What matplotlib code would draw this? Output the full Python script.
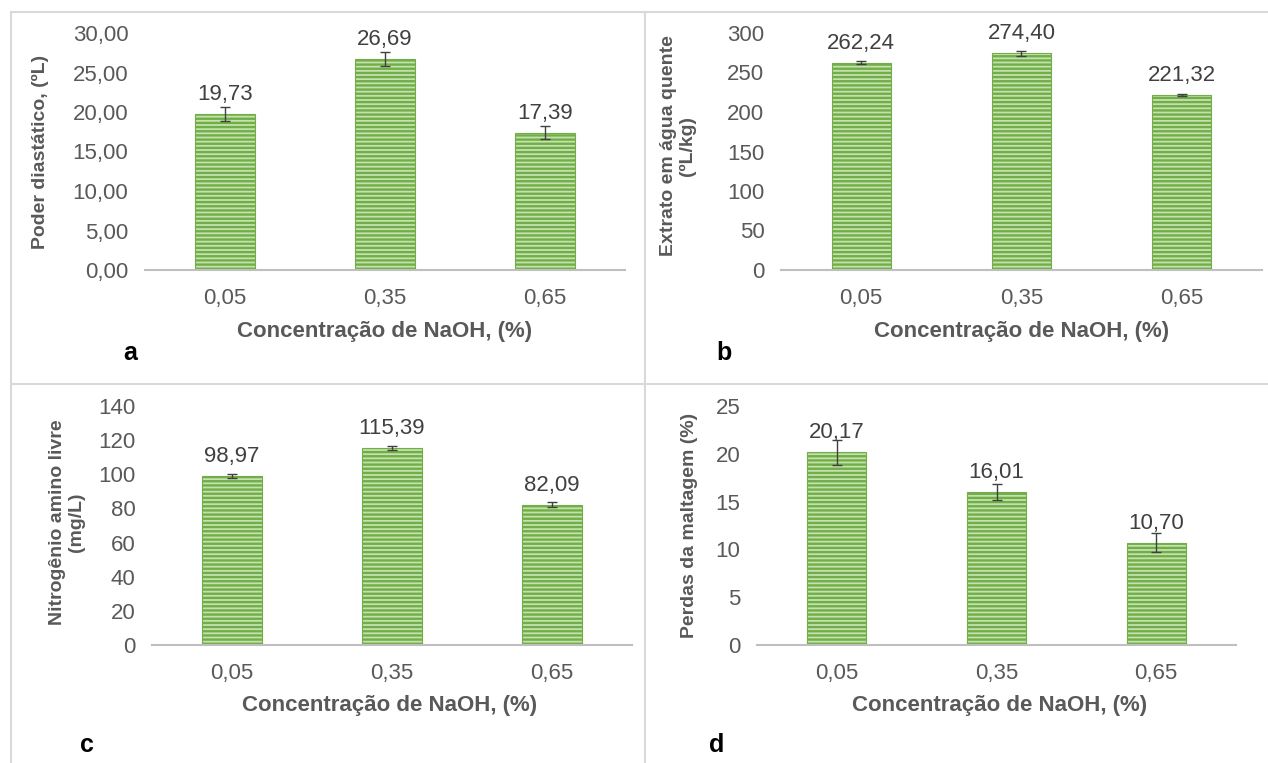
import matplotlib
matplotlib.use("Agg")
import matplotlib.pyplot as plt
from matplotlib.lines import Line2D

plt.rcParams['font.family'] = ['Liberation Sans', 'DejaVu Sans']
plt.rcParams['hatch.linewidth'] = 1.7

categories = ["0,05", "0,35", "0,65"]

poder_diastatico = [19.73, 26.69, 17.39]
poder_err = [0.9, 0.9, 0.8]

extrato = [262.24, 274.40, 221.32]
extrato_err = [2.0, 3.0, 1.0]

nitrogenio = [98.97, 115.39, 82.09]
nitrogenio_err = [1.0, 1.2, 1.5]

perdas = [20.17, 16.01, 10.70]
perdas_err = [1.3, 0.8, 1.0]

W, H = 1268, 763
fig = plt.figure(figsize=(W / 100, H / 100), dpi=100)

GRAY = '#595959'
FACE = '#c4e2ae'
LINE = '#72ae48'


def px_axes(x0, y0, x1, y1):
    return fig.add_axes([x0 / W, 1 - y1 / H, (x1 - x0) / W, (y1 - y0) / H])


panels = [
    dict(box=(145, 33, 625, 270), vals=poder_diastatico, err=poder_err,
         ylim=(0, 30), step=5, fmt="{:.2f}", ylabel="Poder diastático, (ºL)",
         ylab=(40, 152), xlab=(385, 331), letter=("a", 130, 353)),
    dict(box=(781, 33, 1262, 270), vals=extrato, err=extrato_err,
         ylim=(0, 300), step=50, fmt="{:.0f}", ylabel="Extrato em água quente\n(ºL/kg)",
         ylab=(678, 146), xlab=(1022, 331), letter=("b", 724, 353)),
    dict(box=(152, 406, 632, 645), vals=nitrogenio, err=nitrogenio_err,
         ylim=(0, 140), step=20, fmt="{:.0f}", ylabel="Nitrogênio amino livre\n(mg/L)",
         ylab=(67, 522), xlab=(390, 706), letter=("c", 87, 745)),
    dict(box=(757, 406, 1236, 645), vals=perdas, err=perdas_err,
         ylim=(0, 25), step=5, fmt="{:.0f}", ylabel="Perdas da maltagem (%)",
         ylab=(690, 525), xlab=(1000, 706), letter=("d", 717, 745)),
]

for p in panels:
    ax = px_axes(*p['box'])
    x = list(range(len(categories)))
    ax.bar(x, p['vals'], width=0.37, color=FACE, edgecolor=LINE,
           linewidth=0.8, hatch='----', zorder=2)
    ax.errorbar(x, p['vals'], yerr=p['err'], fmt='none', ecolor='#404040',
                elinewidth=1.0, capsize=3.5, capthick=1.0, zorder=3)
    for xi, v in zip(x, p['vals']):
        ax.annotate(f"{v:.2f}".replace('.', ','), (xi, v), xytext=(0, 14),
                    textcoords='offset points', ha='center', va='center',
                    fontsize=16, color='#404040')
    lo, hi = p['ylim']
    ax.set_ylim(lo, hi)
    ax.set_xlim(-0.5, 2.5)
    ticks = list(range(lo, hi + 1, p['step']))
    ax.set_yticks(ticks)
    ax.set_yticklabels([p['fmt'].format(t).replace('.', ',') for t in ticks])
    ax.set_xticks(x)
    ax.set_xticklabels(categories)
    ax.tick_params(axis='both', length=0, labelsize=16, colors=GRAY)
    ax.tick_params(axis='x', pad=13)
    ax.tick_params(axis='y', pad=12)
    for s in ['top', 'right', 'left']:
        ax.spines[s].set_visible(False)
    ax.spines['bottom'].set_color('#bfbfbf')
    ax.spines['bottom'].set_linewidth(1.5)
    ax.patch.set_alpha(0)

    fig.text(p['ylab'][0] / W, 1 - p['ylab'][1] / H, p['ylabel'], rotation=90,
             ha='center', va='center', fontsize=14, fontweight='bold',
             color=GRAY, linespacing=1.2)
    fig.text(p['xlab'][0] / W, 1 - p['xlab'][1] / H,
             "Concentração de NaOH, (%)", ha='center', va='center',
             fontsize=16, fontweight='bold', color=GRAY)
    lt, lx, ly = p['letter']
    fig.text(lx / W, 1 - ly / H, lt, ha='center', va='center',
             fontsize=18, fontweight='bold', color='black')

# panel separators
sep = dict(color='#d9d9d9', linewidth=1.5, transform=fig.transFigure)
fig.add_artist(Line2D([11 / W, 1], [1 - 12 / H, 1 - 12 / H], **sep))
fig.add_artist(Line2D([11 / W, 11 / W], [1 - 12 / H, 0], **sep))
fig.add_artist(Line2D([645 / W, 645 / W], [1 - 12 / H, 0], **sep))
fig.add_artist(Line2D([11 / W, 1], [1 - 384 / H, 1 - 384 / H], **sep))

fig.savefig("out.png", dpi=100, facecolor='white')
